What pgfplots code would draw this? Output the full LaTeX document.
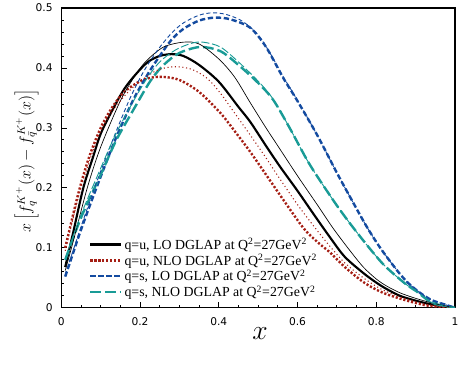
\documentclass[border=0pt]{standalone}
\usepackage{pgfplots}
\pgfplotsset{compat=1.18}
\usetikzlibrary{calc}
\usepackage{fontspec}
\setmainfont{Liberation Serif}
\setsansfont{DejaVu Sans}

\definecolor{cred}{RGB}{165,30,20}
\definecolor{cblue}{RGB}{20,75,160}
\definecolor{cteal}{RGB}{25,155,150}

\begin{document}
\begin{tikzpicture}
\begin{axis}[
    scale only axis,
    width=295.5pt,
    height=225pt,
    xmin=0, xmax=1,
    ymin=0, ymax=0.5,
    xtick={0,0.2,0.4,0.6,0.8,1},
    ytick={0,0.1,0.2,0.3,0.4,0.5},
    minor x tick num=3,
    minor y tick num=4,
    tick align=inside,
    xtick pos=left,
    ytick pos=left,
    major tick length=4pt,
    minor tick length=2pt,
    axis line style={line width=1pt},
    every tick/.style={black, line width=0.6pt},
    tick label style={font=\sffamily\fontsize{8}{8}\selectfont},
    /pgf/number format/assume math mode=true,
    xticklabel style={yshift=-4pt},
    yticklabel style={xshift=-3pt},
    xlabel={$x$},
    xlabel style={font=\fontsize{21}{21}\selectfont, at={(axis description cs:0.505,-0.085)}, anchor=center},
    ylabel={$x\left[f_q^{K^+}(x)-f_{\bar q}^{K^+}(x)\right]$},
    ylabel style={font=\fontsize{12}{12}\selectfont, at={(axis description cs:-0.088,0.49)}, anchor=center},
    legend style={draw=none, fill=none, at={(0.06,0.252)}, anchor=north west,
        font=\fontsize{10.4}{11}\selectfont, row sep=-2pt},
    legend cell align=left,
    legend image code/.code={\draw[#1] (0cm,0cm) -- (0.8cm,0cm);},
    every axis plot/.append style={smooth, tension=0.5},
]
% LO u, thick
\addplot[black, line width=1.6pt] coordinates {
(0.01,0.068)(0.03,0.125)(0.056,0.2)(0.08,0.25)(0.1,0.29)(0.13,0.33)(0.16,0.365)
(0.19,0.39)(0.22,0.41)(0.25,0.42)(0.28,0.423)(0.31,0.42)(0.35,0.405)(0.4,0.377)
(0.45,0.335)(0.48,0.31)(0.52,0.27)(0.556,0.235)(0.6,0.195)(0.64,0.157)(0.683,0.117)
(0.72,0.085)(0.767,0.058)(0.8,0.042)(0.827,0.031)(0.86,0.02)(0.894,0.013)(0.93,0.007)
(0.962,0.003)(1,0)
};
\addlegendentry{q=u, LO DGLAP at Q\textsuperscript{2}=27GeV\textsuperscript{2}}
% NLO u, thick
\addplot[cred, line width=1.8pt, dash pattern=on 1.6pt off 1.4pt] coordinates {
(0.01,0.1)(0.043,0.19)(0.07,0.25)(0.1,0.3)(0.13,0.335)(0.16,0.36)(0.2,0.378)
(0.23,0.384)(0.26,0.385)(0.3,0.38)(0.35,0.36)(0.404,0.325)(0.44,0.295)(0.48,0.26)
(0.52,0.222)(0.564,0.18)(0.615,0.133)(0.65,0.11)(0.683,0.092)(0.72,0.068)(0.767,0.043)
(0.81,0.027)(0.852,0.017)(0.9,0.008)(0.937,0.003)(1,0)
};
\addlegendentry{q=u, NLO DGLAP at Q\textsuperscript{2}=27GeV\textsuperscript{2}}
% LO s, thick
\addplot[cblue, line width=1.8pt, dash pattern=on 4pt off 2pt] coordinates {
(0.01,0.052)(0.05,0.13)(0.095,0.21)(0.14,0.285)(0.183,0.347)(0.22,0.39)(0.25,0.42)
(0.28,0.447)(0.31,0.465)(0.35,0.479)(0.39,0.484)(0.43,0.481)(0.48,0.467)(0.52,0.435)
(0.564,0.383)(0.598,0.347)(0.65,0.288)(0.7,0.225)(0.74,0.177)(0.776,0.135)(0.81,0.1)
(0.852,0.063)(0.88,0.042)(0.911,0.025)(0.94,0.013)(0.962,0.008)(1,0)
};
\addlegendentry{q=s, LO DGLAP at Q\textsuperscript{2}=27GeV\textsuperscript{2}}
% NLO s, thick
\addplot[cteal, line width=1.8pt, dash pattern=on 8pt off 3pt] coordinates {
(0.01,0.08)(0.05,0.15)(0.1,0.222)(0.14,0.28)(0.183,0.33)(0.226,0.378)(0.26,0.405)
(0.3,0.425)(0.353,0.435)(0.404,0.428)(0.45,0.405)(0.5,0.375)(0.538,0.347)(0.58,0.3)
(0.63,0.24)(0.69,0.18)(0.726,0.147)(0.76,0.118)(0.792,0.092)(0.82,0.071)(0.852,0.052)
(0.88,0.037)(0.903,0.027)(0.937,0.01)(0.97,0.003)(1,0)
};
\addlegendentry{q=s, NLO DGLAP at Q\textsuperscript{2}=27GeV\textsuperscript{2}}

% thin companions
\addplot[black, line width=0.5pt, forget plot] coordinates {
(0.01,0.062)(0.03,0.11)(0.066,0.2)(0.1,0.268)(0.15,0.345)(0.19,0.39)(0.218,0.413)
(0.26,0.435)(0.31,0.443)(0.35,0.44)(0.4,0.415)(0.44,0.385)(0.48,0.342)(0.52,0.3)
(0.55,0.27)(0.6,0.22)(0.65,0.172)(0.69,0.133)(0.73,0.098)(0.767,0.068)(0.8,0.048)
(0.827,0.036)(0.86,0.025)(0.894,0.017)(0.93,0.01)(0.962,0.005)(1,0)
};
\addplot[cred, line width=0.8pt, dash pattern=on 0.8pt off 2pt, forget plot] coordinates {
(0.01,0.095)(0.05,0.2)(0.1,0.295)(0.15,0.345)(0.19,0.372)(0.24,0.395)(0.285,0.402)
(0.33,0.398)(0.37,0.383)(0.404,0.358)(0.44,0.325)(0.48,0.288)(0.52,0.25)(0.55,0.22)
(0.6,0.172)(0.645,0.133)(0.683,0.102)(0.72,0.075)(0.767,0.05)(0.81,0.032)(0.852,0.02)
(0.9,0.01)(0.94,0.004)(1,0)
};
\addplot[cblue, line width=0.7pt, dash pattern=on 3pt off 2pt, forget plot] coordinates {
(0.01,0.055)(0.05,0.135)(0.09,0.21)(0.135,0.287)(0.175,0.35)(0.21,0.395)(0.245,0.43)
(0.28,0.458)(0.31,0.475)(0.35,0.488)(0.385,0.492)(0.42,0.489)(0.46,0.478)(0.5,0.455)
(0.53,0.425)(0.564,0.385)(0.598,0.348)(0.65,0.288)(0.7,0.225)(0.74,0.177)(0.776,0.135)
(0.81,0.1)(0.852,0.063)(0.88,0.042)(0.911,0.025)(0.94,0.013)(0.962,0.008)(1,0)
};
\addplot[cteal, line width=0.7pt, dash pattern=on 6pt off 2pt, forget plot] coordinates {
(0.01,0.082)(0.05,0.155)(0.095,0.225)(0.135,0.285)(0.175,0.335)(0.215,0.38)(0.25,0.41)
(0.29,0.43)(0.33,0.441)(0.36,0.443)(0.404,0.435)(0.45,0.41)(0.5,0.378)(0.538,0.348)
(0.58,0.3)(0.63,0.24)(0.69,0.18)(0.726,0.147)(0.76,0.118)(0.792,0.092)(0.82,0.071)
(0.852,0.052)(0.88,0.037)(0.903,0.027)(0.937,0.01)(0.97,0.003)(1,0)
};
\end{axis}
\pgfresetboundingbox
\useasboundingbox ($(current axis.south west)+(-46pt,-47pt)$) rectangle ($(current axis.north east)+(6pt,6pt)$);
\end{tikzpicture}
\end{document}
